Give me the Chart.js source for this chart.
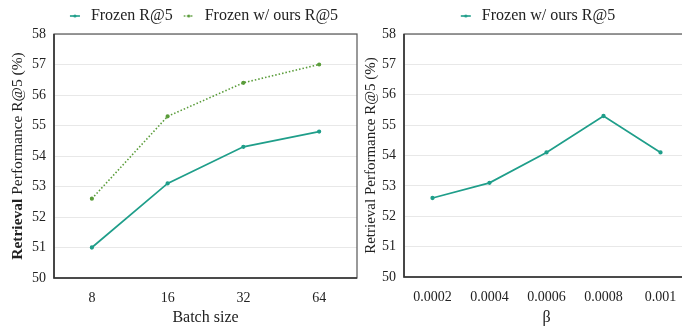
<!DOCTYPE html>
<html>
<head>
<meta charset="utf-8">
<script src="https://cdn.jsdelivr.net/npm/chart.js@4/dist/chart.umd.min.js"></script>
<style>
  html, body { margin: 0; padding: 0; background: #fff; overflow: hidden; }
  #wrap { position: relative; width: 682px; height: 327px; overflow: hidden; }
  #left { position: absolute; left: 0; top: 0; }
  #right { position: absolute; left: 362px; top: 0; }
</style>
</head>
<body>
<div id="wrap">
  <canvas id="left" width="365" height="327"></canvas>
  <canvas id="right" width="340" height="327"></canvas>
</div>
<script>
const batchSizes = ['8', '16', '32', '64'];
const frozenR5 = [51.0, 53.1, 54.3, 54.8];
const frozenOursR5 = [52.6, 55.3, 56.4, 57.0];

const betas = ['0.0002', '0.0004', '0.0006', '0.0008', '0.001'];
const betaOursR5 = [52.6, 53.1, 54.1, 55.3, 54.1];

const yTicks = [50, 51, 52, 53, 54, 55, 56, 57, 58];

const TEAL = '#1f9e8a';
const GREEN = '#5a9c3a';
const SERIF = '"Liberation Serif", "DejaVu Serif", serif';

Chart.defaults.font.family = SERIF;
Chart.defaults.color = '#222';

// small legend glyph: short line with a dot in the middle
function legendMark(color, dashed) {
  const c = document.createElement('canvas');
  c.width = 12; c.height = 8;
  const g = c.getContext('2d');
  g.strokeStyle = color;
  g.lineWidth = 1.6;
  if (dashed) g.setLineDash([1.5, 2]);
  g.beginPath(); g.moveTo(1, 4); g.lineTo(11, 4); g.stroke();
  g.fillStyle = color;
  g.beginPath(); g.arc(6, 4, 1.6, 0, Math.PI * 2); g.fill();
  return c;
}

// frame around the plot area
const frame = {
  id: 'frame',
  afterDraw(chart) {
    const { ctx, chartArea: a } = chart;
    ctx.save();
    ctx.strokeStyle = '#555';
    ctx.lineWidth = 1.2;
    ctx.strokeRect(a.left, a.top, a.right - a.left, a.bottom - a.top);
    ctx.strokeStyle = '#333';
    ctx.lineWidth = 1.6;
    ctx.beginPath();
    ctx.moveTo(a.left, a.top); ctx.lineTo(a.left, a.bottom); ctx.lineTo(a.right, a.bottom);
    ctx.stroke();
    ctx.restore();
  }
};

// center the legend over the plot area instead of the whole canvas
const legendOverPlot = {
  id: 'legendOverPlot',
  beforeDraw(chart, args, opts) {
    const a = chart.chartArea;
    chart.legend.left = a.left + (opts.shiftLeft || 0);
    chart.legend.right = a.right + (opts.shiftRight || 0);
  }
};

// y title with a bold first word (left chart)
const mixedTitle = {
  id: 'mixedTitle',
  afterDraw(chart) {
    const { ctx, chartArea: a } = chart;
    const boldPart = 'Retrieval ';
    const restPart = 'Performance R@5 (%)';
    const size = 15.5;
    ctx.save();
    ctx.fillStyle = '#222';
    ctx.textBaseline = 'middle';
    ctx.font = 'bold ' + size + 'px ' + SERIF;
    const w1 = ctx.measureText(boldPart).width;
    ctx.font = size + 'px ' + SERIF;
    const w2 = ctx.measureText(restPart).width;
    ctx.translate(18, (a.top + a.bottom) / 2);
    ctx.rotate(-Math.PI / 2);
    const x = -(w1 + w2) / 2;
    ctx.font = 'bold ' + size + 'px ' + SERIF;
    ctx.fillText(boldPart, x, 0);
    ctx.font = size + 'px ' + SERIF;
    ctx.fillText(restPart, x + w1, 0);
    ctx.restore();
  }
};

function yScale(width, showTitle) {
  return {
    min: 50, max: 58,
    afterBuildTicks(s) { s.ticks = yTicks.map(v => ({ value: v })); },
    afterFit(s) { s.width = width; },
    ticks: { font: { size: 14 }, color: '#222', padding: 8 },
    grid: { color: '#e8e8e8', drawTicks: false, lineWidth: 1 },
    border: { display: false },
    title: {
      display: showTitle,
      text: 'Retrieval Performance R@5 (%)',
      font: { size: 15 }, color: '#222', padding: { top: 0, bottom: 0 }
    }
  };
}

function xScale(title, height) {
  return {
    offset: true,
    afterFit(s) { s.height = height; },
    ticks: { font: { size: 14 }, color: '#222', padding: 12 },
    grid: { display: false, drawTicks: false },
    border: { display: false },
    title: { display: true, text: title, font: { size: 16 }, color: '#222', padding: { top: 4, bottom: 0 } }
  };
}

function legendOpts(marks) {
  return {
    position: 'top',
    labels: {
      usePointStyle: true,
      font: { size: 16 },
      color: '#222',
      padding: 8,
      boxHeight: 8,
      generateLabels(chart) {
        const items = Chart.defaults.plugins.legend.labels.generateLabels(chart);
        items.forEach((it, i) => { it.pointStyle = marks[i]; });
        return items;
      }
    }
  };
}

new Chart(document.getElementById('left'), {
  type: 'line',
  data: {
    labels: batchSizes,
    datasets: [{
      label: 'Frozen R@5',
      data: frozenR5,
      borderColor: TEAL, backgroundColor: TEAL,
      borderWidth: 1.7, pointRadius: 1.3, pointStyle: 'circle'
    }, {
      label: 'Frozen w/ ours R@5',
      data: frozenOursR5,
      borderColor: GREEN, backgroundColor: GREEN,
      borderWidth: 1.6, borderDash: [1.5, 2], pointRadius: 1.3, pointStyle: 'circle'
    }]
  },
  options: {
    responsive: false,
    animation: false,
    layout: { padding: { left: 0, right: 8, top: 0, bottom: 0 } },
    elements: { line: { tension: 0 } },
    scales: { x: xScale('Batch size', 49), y: yScale(54, false) },
    plugins: {
      legend: legendOpts([legendMark(TEAL, false), legendMark(GREEN, true)]),
      legendOverPlot: { shiftLeft: 0, shiftRight: -6 },
      tooltip: { enabled: false }
    }
  },
  plugins: [legendOverPlot, frame, mixedTitle]
});

new Chart(document.getElementById('right'), {
  type: 'line',
  data: {
    labels: betas,
    datasets: [{
      label: 'Frozen w/ ours R@5',
      data: betaOursR5,
      borderColor: TEAL, backgroundColor: TEAL,
      borderWidth: 1.7, pointRadius: 1.3, pointStyle: 'circle'
    }]
  },
  options: {
    responsive: false,
    animation: false,
    layout: { padding: { left: 0, right: 13, top: 0, bottom: 0 } },
    elements: { line: { tension: 0 } },
    scales: { x: xScale('β', 50), y: yScale(42, true) },
    plugins: {
      legend: legendOpts([legendMark(TEAL, false)]),
      legendOverPlot: { shiftLeft: 0, shiftRight: -20 },
      tooltip: { enabled: false }
    }
  },
  plugins: [legendOverPlot, frame]
});
</script>
</body>
</html>
